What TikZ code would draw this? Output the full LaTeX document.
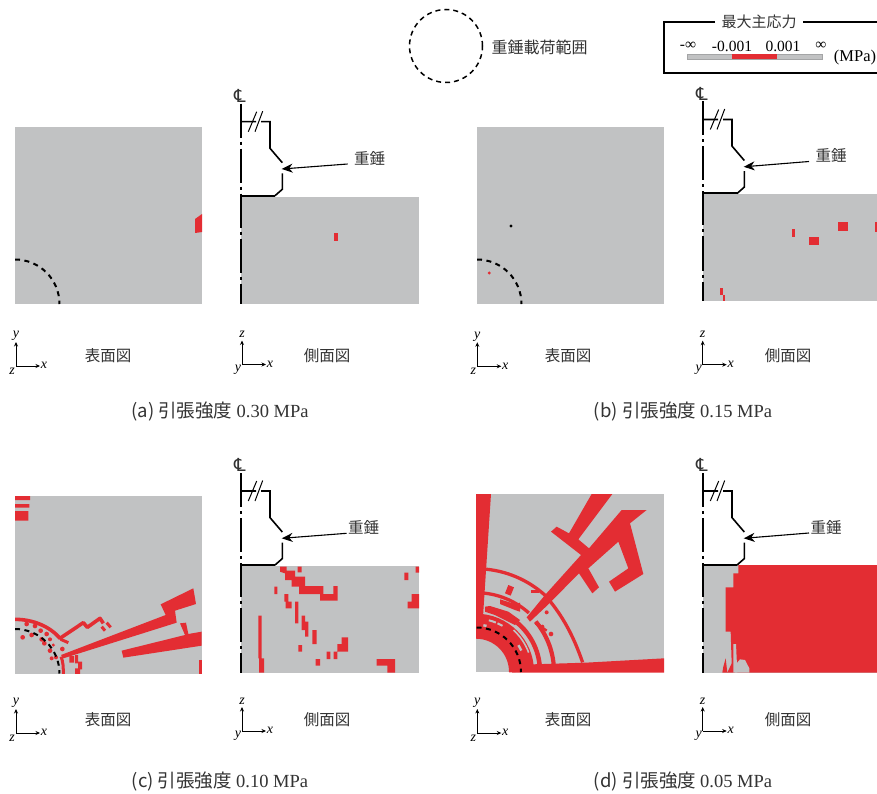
\documentclass[tikz,border=0pt]{standalone}
\usepackage{fontspec}
\setmainfont{Liberation Serif}
\newfontfamily\jpf{Noto Sans CJK JP}
\newfontfamily\cl{DejaVu Sans}
\usetikzlibrary{arrows.meta}
\definecolor{rd}{HTML}{E32D33}
\definecolor{gy}{HTML}{C1C2C3}
\definecolor{tx}{HTML}{333333}
\tikzset{
  panel/.style={fill=gy,draw=none},
  jplab/.style={font=\jpf\fontsize{15.5}{16}\selectfont,text=tx,inner sep=0pt},
  caplab/.style={font=\jpf\fontsize{18.5}{19}\selectfont,text=tx,inner sep=0pt},
  axl/.style={font=\itshape\fontsize{14}{14}\selectfont,inner sep=0pt},
  axarrow/.style={-{Stealth[length=4.5pt,width=4pt]},line width=1pt},
  weight/.style={line width=1.6pt,line join=miter},
  cline/.style={line width=1.2pt,dash pattern=on 34pt off 4pt on 3pt off 4pt},
  load/.style={line width=2pt,dash pattern=on 5pt off 4.5pt},
  zoomc/.style={x=.33333pt,y=-.33333pt},
  lgt/.style={inner sep=0pt,font=\fontsize{15.5}{16}\selectfont},
}
% name, x, y, vertical label, corner label
\newcommand\axset[5]{%
  \begin{scope}[shift={(#2,#3)}]
    \coordinate (#1o) at (0,0);
    \coordinate (#1u) at (0,-24);
    \coordinate (#1r) at (24,0);
    \draw[axarrow] (#1o) -- (#1u);
    \draw[axarrow] (#1o) -- (#1r);
    \node[axl] (#1v) at (0,-30) {#4};
    \node[axl] (#1c) at (-4,5) {#5};
    \node[axl] (#1h) at (28,-.5) {x};
  \end{scope}}
% name, x0, bottom-line y, tail x, tail y, label x, label y, centre line end y
\newcommand\weightfig[8]{%
  \begin{scope}[shift={(#2,#3)}]
    \draw[weight] (0,-74) -- (15,-74) (20,-74) -- (29,-74) -- (29,-47.4) -- (41.3,-33);
    \draw[weight] (41.3,-22.4) -- (41.3,-6.4) -- (34,0);
    \draw[line width=2pt] (34,0) -- (0,0);
    \draw[line width=1pt] (7.3,-64) -- (15.7,-84);
    \draw[line width=1pt] (14,-64) -- (21.7,-84.5);
    \coordinate (#1tip) at (40.7,-26.7);
    \coordinate (#1ct) at (0,-92);
    \coordinate (#1cb) at (0,#8);
    \draw[cline] (#1ct) -- (#1cb);
    \node[font=\cl\fontsize{18}{18}\selectfont,inner sep=0pt,text=tx] (#1cl) at (-1,-100) {℄};
  \end{scope}
  \coordinate (#1tail) at (#4,#5);
  \node[jplab] (#1lab) at (#6,#7) {重錘};
  \draw[-{Stealth[length=11pt,width=9pt]},line width=1.1pt] (#1tail) -- (#1tip);
}
% name, centre x, centre y, panel rectangle far corner
\newcommand\loadarc[5]{%
  \begin{scope}
    \clip (#2,#3) rectangle (#4,#5);
    \begin{scope}[shift={(#2,#3)},x=1pt,y=1pt]
      \draw[load] (90:44.5) arc[start angle=90,end angle=0,radius=44.5];
    \end{scope}
  \end{scope}}
\begin{document}
\begin{tikzpicture}[x=1pt,y=-1pt]
\useasboundingbox (0,0) rectangle (877,794);
\fill[white] (0,0) rectangle (877,794);

% legend
\node[draw=black,line width=1.5pt,dash pattern=on 5pt off 4pt,circle,minimum size=73pt,inner sep=0pt] (loadc) at (446,46) {};
\node[jplab,font=\jpf\fontsize{16}{16}\selectfont,anchor=west] (loadt) at (491.5,47) {重錘載荷範囲};
\coordinate (lgA) at (715,21.7);
\coordinate (lgB) at (803,21.7);
\coordinate (lgC) at (877,21.7);
\coordinate (lgD) at (877,72.7);
\coordinate (lgE) at (663.8,72.7);
\coordinate (lgF) at (663.8,21.7);
\draw[line width=1.9pt] (lgA) -- (lgF) -- (lgE) -- (lgD);
\draw[line width=1.9pt] (lgB) -- (lgC);
\node[jplab,font=\jpf\fontsize{15}{16}\selectfont] (lgt) at (759,22) {最大主応力};
\draw[gy!85!black,fill=gy,line width=.4pt] (687.3,54.5) rectangle (821.7,59.5);
\fill[rd] (732.3,54.5) rectangle (776.7,59.5);
\node[lgt] (l1) at (688,46) {-∞};
\node[lgt] (l2) at (732,46) {-0.001};
\node[lgt] (l3) at (783,46) {0.001};
\node[lgt] (l4) at (821,46) {∞};
\node[lgt,font=\fontsize{16.5}{17}\selectfont] (l5) at (855,58) {(MPa)};

% panel rectangles
\fill[panel] (15,127) rectangle (202,304);
\fill[panel] (241,197) rectangle (419,304);
\fill[panel] (477,127) rectangle (664,304);
\fill[panel] (703,194) rectangle (877,301);
\fill[panel] (15,496) rectangle (202,673.5);
\fill[panel] (241,566) rectangle (419,673);
\fill[panel] (476,494) rectangle (664,672);
\fill[panel] (703,565) rectangle (877,673);

% (a)
\fill[rd] (195,219) -- (202,214) -- (202,232) -- (195,233) -- cycle;
\fill[rd] (333.7,233.3) rectangle (337.7,240.7);

% (b)
\fill[rd] (489.3,273) circle (1.6);
\fill[black] (511,226) circle (1.6);
\fill[rd] (791.5,229.5) rectangle (795,237);
\fill[rd] (809.3,237) rectangle (819,244.5);
\fill[rd] (838,222.5) rectangle (848,231);
\fill[rd] (875,222.5) rectangle (877,232);
\fill[rd] (720.3,288) rectangle (722.5,295);
\fill[rd] (722.5,295) rectangle (725,301);

% (c) top
\begin{scope}
\clip (15,496) rectangle (202,673.5);
\begin{scope}[shift={(0,480)},zoomc]
\fill[rd] (45,48) rectangle (90,60) (45,72) rectangle (88,83) (45,93) rectangle (85,122);
\draw[rd,line width=3.6pt,line join=round] (45,418) .. controls (100,418) and (150,440) .. (180,475) -- (250,428) -- (262,442) -- (300,415) -- (310,430);
\draw[rd,line width=3pt] (182,478) -- (205,488);
\draw[rd,line width=3pt] (320,428) -- (332,442) (305,440) -- (315,452);
\draw[rd,line width=3pt] (183,530) .. controls (190,545) and (190,565) .. (190,582);
\fill[rd] (68,472) circle (7) (95,465) circle (7) (125,478) circle (7) (133,490) circle (7) (150,512) circle (7) (168,532) circle (6) (155,535) circle (6) (187,507) circle (7) (80,432) circle (7) (105,438) circle (7) (122,452) circle (7) (140,462) circle (7) (150,478) circle (6) (160,495) circle (5);
\fill[rd] (183,525) -- (497,405) -- (482,373) -- (580,325) -- (588,372) -- (525,392) -- (530,428) -- (190,535) -- cycle;
\fill[rd] (365,512) -- (555,465) -- (540,430) -- (558,428) -- (565,462) -- (605,455) -- (605,497) -- (370,533) -- cycle;
\fill[rd] (598,540) rectangle (606,582);
\fill[rd] (208,528) rectangle (222,548) (225,525) rectangle (234,550) (234,545) rectangle (246,568) (225,565) rectangle (240,582);
\end{scope}
\end{scope}

% (c) side
\begin{scope}[shift={(225,450)},zoomc]
\fill[rd] (165,350) -- (185,350) -- (185,362) -- (210,362) -- (210,380) -- (240,380) -- (240,408) -- (295,408) -- (295,432) -- (325,432) -- (325,408) -- (338,408) -- (338,452) -- (285,452) -- (285,432) -- (222,432) -- (222,410) -- (200,410) -- (200,390) -- (180,390) -- (180,370) -- (165,365) -- cycle;
\fill[rd] (218,350) rectangle (230,367) (148,410) rectangle (157,432) (178,432) rectangle (190,455) (182,455) rectangle (200,475) (210,455) rectangle (220,520) (230,497) rectangle (240,520) (230,515) rectangle (250,540) (240,535) rectangle (250,560) (262,540) rectangle (275,582) (220,585) rectangle (231,605) (272,627) rectangle (285,647) (305,605) rectangle (316,627) (326,605) rectangle (337,627) (350,562) rectangle (369,605) (337,582) rectangle (350,605) (455,627) rectangle (510,647) (487,647) rectangle (510,668) (100,497) rectangle (110,625) (102,625) rectangle (117,668) (538,368) rectangle (550,390) (572,350) rectangle (582,368) (560,432) rectangle (582,475) (548,455) rectangle (560,475);
\end{scope}

% (d) top
\begin{scope}
\clip (476,494) rectangle (664,672);
\begin{scope}[shift={(476,671.7)},x=1pt,y=1pt]
\draw[rd,line width=25pt] (0:45.5) arc[start angle=0,end angle=90,radius=45.5];
\draw[rd,line width=4.5pt] (0:64) arc[start angle=0,end angle=50,radius=64];
\draw[rd,line width=4.2pt] (0:78) arc[start angle=0,end angle=40,radius=78];
\draw[rd,line width=3.3pt] (48:79) arc[start angle=48,end angle=86,radius=79];
\draw[rd,line width=3.3pt] (5:107) .. controls (22:104) and (35:103) .. (48:103) arc[start angle=48,end angle=86,radius=103];
\draw[gy,line width=1.6pt] (20:56) arc[start angle=20,end angle=48,radius=56];
\draw[gy,line width=2pt] (60:53) arc[start angle=60,end angle=66,radius=53];
\draw[gy,line width=2pt] (68:53) arc[start angle=68,end angle=76,radius=53];
\draw[gy,line width=2pt] (55:60) arc[start angle=55,end angle=64,radius=60];
\draw[gy,line width=2.4pt] (25:50) arc[start angle=25,end angle=32,radius=50];
\draw[gy,line width=2.4pt] (77:47) arc[start angle=77,end angle=81,radius=47];
\end{scope}
\begin{scope}[shift={(465,480)},zoomc]
\fill[rd] (33,42) -- (78,42) -- (52,440) -- (33,450) -- cycle;
\fill[rd] (362,548) -- (597,535) -- (597,578) -- (140,578) -- (140,555) -- cycle;
\fill[rd] (380,42) -- (442,42) -- (340,178) -- (372,205) -- (470,90) -- (545,90) -- (495,130) -- (535,282) -- (450,335) -- (432,305) -- (490,265) -- (460,185) -- (370,265) -- (402,322) -- (382,340) -- (342,280) -- (248,375) -- (195,425) -- (185,412) -- (240,345) -- (348,225) -- (258,155) -- (275,140) -- (312,160) -- cycle;
\fill[rd] (120,340) -- (130,315) -- (147,322) -- (137,347) -- cycle;
\fill[rd] (60,380) -- (75,378) -- (130,395) -- (165,420) -- (150,435) -- (90,405) -- (60,395) -- cycle;
\fill[rd] (105,358) -- (150,372) -- (165,368) -- (165,395) -- (150,390) -- (105,372) -- cycle;
\fill[rd] (198,330) rectangle (222,340);
\fill[rd] (215,430) circle (6) (232,440) circle (6) (258,462) circle (7) (245,397) circle (6);
\draw[rd,line width=2.4pt] (215,430) -- (245,452);
\end{scope}
\end{scope}

% (d) side
\begin{scope}[shift={(690,450)},zoomc]
\fill[rd] (145,345) -- (561,345) -- (561,668) -- (97,668) -- (100,650) -- (107,625) -- (112,668) -- (125,640) -- (122,545) -- (107,545) -- (107,412) -- (130,412) -- (130,370) -- (145,370) -- cycle;
\fill[gy] (130,582) -- (138,582) -- (142,668) -- (130,668) -- cycle;
\fill[gy] (140,640) -- (150,628) -- (165,630) -- (178,655) -- (178,668) -- (135,668) -- cycle;
\end{scope}

% dashed loading arcs
\loadarc{A}{15}{304}{202}{127}
\loadarc{B}{477}{304}{664}{127}
\loadarc{C}{15}{673.5}{202}{496}
\loadarc{D}{476.5}{672}{664}{494}

% weights
\weightfig{wa}{241}{195.7}{347.7}{164}{369.5}{158}{108.3}
\weightfig{wb}{703}{193.5}{809}{161.5}{831}{155.5}{107.5}
\weightfig{wc}{241}{565}{346.7}{533.3}{363.5}{527}{108}
\weightfig{wd}{703}{565}{809}{533}{826}{527}{108}

% axes
\axset{aa}{16}{366}{y}{z}
\axset{ab}{242}{364.5}{z}{y}
\axset{ba}{477.3}{366.3}{y}{z}
\axset{bb}{702.7}{364.7}{z}{y}
\axset{ca}{16}{733}{y}{z}
\axset{cb}{242}{731}{z}{y}
\axset{da}{477.3}{733}{y}{z}
\axset{db}{702.7}{731}{z}{y}

% view labels
\node[jplab] (ta) at (108,355.5) {表面図};
\node[jplab] (sa) at (327,356) {側面図};
\node[jplab] (tb) at (568,355.5) {表面図};
\node[jplab] (sb) at (788,356) {側面図};
\node[jplab] (tc) at (108,720) {表面図};
\node[jplab] (sc) at (327,720) {側面図};
\node[jplab] (td) at (568,720) {表面図};
\node[jplab] (sd) at (788,720) {側面図};

% captions
\node[caplab] (capa) at (220,412) {(a) 引張強度 {\rmfamily 0.30 MPa}};
\node[caplab] (capb) at (683,412) {(b) 引張強度 {\rmfamily 0.15 MPa}};
\node[caplab] (capc) at (220,782) {(c) 引張強度 {\rmfamily 0.10 MPa}};
\node[caplab] (capd) at (683,782) {(d) 引張強度 {\rmfamily 0.05 MPa}};
\end{tikzpicture}
\end{document}
